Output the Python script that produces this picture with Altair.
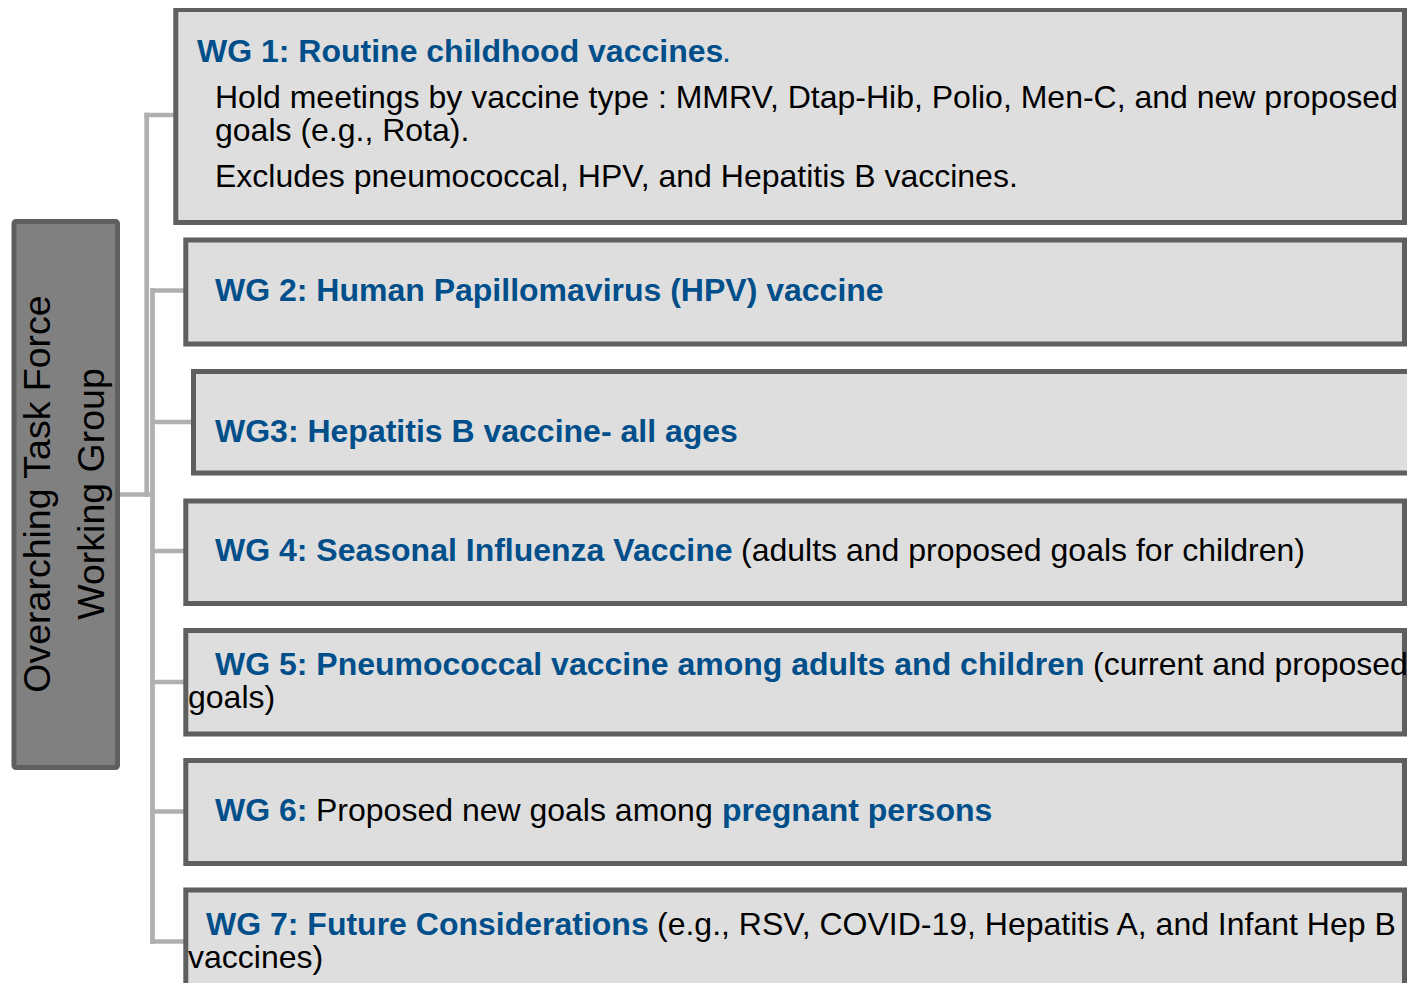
import altair as alt
import pandas as pd

# ---- content ----
left_lines = ["Overarching Task Force", "Working Group"]

box_ids = ["WG1", "WG2", "WG3", "WG4", "WG5", "WG6", "WG7"]

seg_text = [
    "WG 1: Routine childhood vaccines", ".",
    "Hold meetings by vaccine type : MMRV, Dtap-Hib, Polio, Men-C, and new proposed",
    "goals (e.g., Rota).",
    "Excludes pneumococcal, HPV, and Hepatitis B vaccines.",
    "WG 2: Human Papillomavirus (HPV) vaccine",
    "WG3: Hepatitis B vaccine- all ages",
    "WG 4: Seasonal Influenza Vaccine", "(adults and proposed goals for children)",
    "WG 5: Pneumococcal vaccine among adults and children", "(current and proposed", "goals)",
    "WG 6:", "Proposed new goals among", "pregnant persons",
    "WG 7: Future Considerations", "(e.g., RSV, COVID-19, Hepatitis A, and Infant Hep B", "vaccines)",
]
seg_style = [
    "title", "dot",
    "body", "body", "body",
    "title",
    "title",
    "title", "body",
    "title", "body", "body",
    "title", "body", "title",
    "title", "body", "body",
]

# ---- layout (pixel positions of the diagram) ----
seg_x = [197, 722, 215, 215, 215, 215, 215, 215, 741, 215, 1093, 188, 215, 316, 722, 206, 657, 188]
seg_y = [62, 62, 108, 141, 187, 301, 442, 561, 561, 675, 675, 708, 821, 821, 821, 935, 935, 968]

box_x = [175.8, 185.8, 193.5, 185.8, 185.8, 185.8, 185.8]
box_x2 = [1404.5, 1404.5, 1422.0, 1404.5, 1404.5, 1404.5, 1404.5]
box_y = [9.5, 240.0, 371.5, 501.0, 630.5, 760.5, 890.0]
box_y2 = [222.5, 344.0, 473.0, 603.5, 734.0, 863.5, 998.0]

left_box = {"x": 14.0, "x2": 117.5, "y": 221.5, "y2": 767.5}
left_line_x = [50, 104]
left_line_y = [494, 494]

conn_x = [146.7, 120.0, 152.5, 146.7, 152.5, 152.5, 152.5, 152.5, 152.5, 152.5]
conn_x2 = [146.7, 150.0, 152.5, 175.8, 185.8, 193.5, 185.8, 185.8, 185.8, 185.8]
conn_y = [115.0, 494.5, 290.5, 115.0, 290.5, 422.0, 551.0, 682.0, 811.5, 941.5]
conn_y2 = [494.5, 494.5, 941.5, 115.0, 290.5, 422.0, 551.0, 682.0, 811.5, 941.5]

BLUE = "#004f8b"
BOX_FILL = "#dedede"
BOX_STROKE = "#5f5f5f"
CONN = "#b0b0b0"
FONT = "Liberation Sans"
FS = 32

W, H = 1399, 975
xs = alt.Scale(domain=[8, 8 + W], nice=False, zero=False)
ys = alt.Scale(domain=[8, 8 + H], nice=False, zero=False, reverse=True)

def X(f):
    return alt.X(f, type="quantitative", scale=xs, axis=None)

def Y(f):
    return alt.Y(f, type="quantitative", scale=ys, axis=None)

conn_df = pd.DataFrame({"x": conn_x, "x2": conn_x2, "y": conn_y, "y2": conn_y2})
box_df = pd.DataFrame({"id": box_ids, "x": box_x, "x2": box_x2, "y": box_y, "y2": box_y2})
left_df = pd.DataFrame([left_box])
left_txt_df = pd.DataFrame({"t": left_lines, "x": left_line_x, "y": left_line_y})
seg_df = pd.DataFrame({"t": seg_text, "s": seg_style, "x": seg_x, "y": seg_y})

connectors = alt.Chart(conn_df).mark_rule(
    color=CONN, strokeWidth=4.7, strokeCap="square"
).encode(x=X("x"), x2="x2", y=Y("y"), y2="y2")

boxes = alt.Chart(box_df).mark_rect(
    fill=BOX_FILL, stroke=BOX_STROKE, strokeWidth=5
).encode(x=X("x"), x2="x2", y=Y("y"), y2="y2")

left_rect = alt.Chart(left_df).mark_rect(
    fill="#808080", stroke=BOX_STROKE, strokeWidth=5, cornerRadius=2
).encode(x=X("x"), x2="x2", y=Y("y"), y2="y2")

left_text = alt.Chart(left_txt_df).mark_text(
    angle=270, align="center", baseline="alphabetic", font=FONT, fontSize=37.5, color="#000000"
).encode(x=X("x"), y=Y("y"), text="t:N")

title_text = alt.Chart(seg_df).transform_filter(alt.datum.s == "title").mark_text(
    align="left", baseline="alphabetic", font=FONT, fontSize=FS, fontWeight="bold", color=BLUE
).encode(x=X("x"), y=Y("y"), text="t:N")

dot_text = alt.Chart(seg_df).transform_filter(alt.datum.s == "dot").mark_text(
    align="left", baseline="alphabetic", font=FONT, fontSize=FS, color=BLUE
).encode(x=X("x"), y=Y("y"), text="t:N")

body_text = alt.Chart(seg_df).transform_filter(alt.datum.s == "body").mark_text(
    align="left", baseline="alphabetic", font=FONT, fontSize=FS, color="#000000"
).encode(x=X("x"), y=Y("y"), text="t:N")

chart = alt.layer(
    connectors, boxes, left_rect, left_text, title_text, dot_text, body_text
).properties(
    width=W, height=H, padding=0, autosize=alt.AutoSizeParams(type="none"),
    background="white"
).configure_view(stroke=None)

chart.save("out.html", embed_options={"renderer": "svg", "actions": False})
